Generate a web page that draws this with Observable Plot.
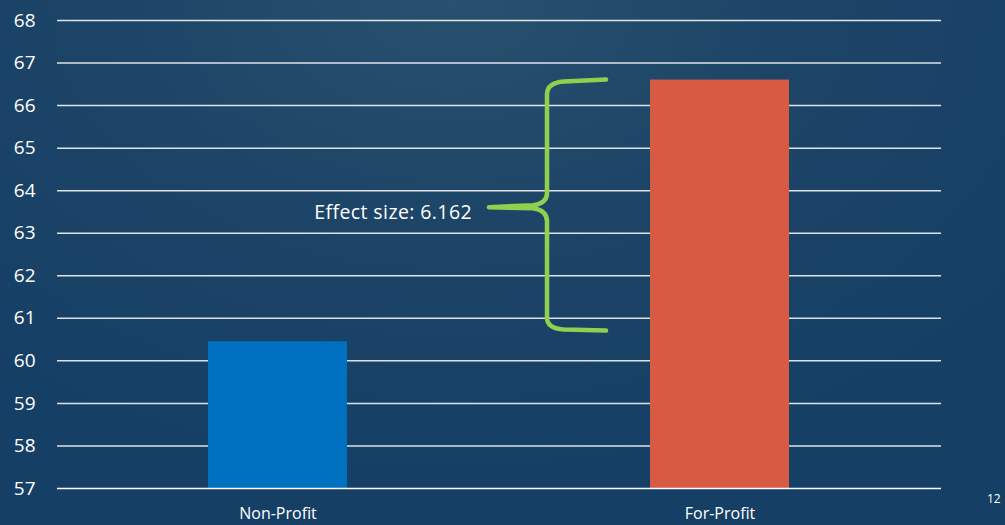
<!DOCTYPE html>
<html>
<head>
<meta charset="utf-8">
<script src="https://cdn.jsdelivr.net/npm/d3@7"></script>
<script src="https://cdn.jsdelivr.net/npm/@observablehq/plot@0.6"></script>
<style>
  html, body { margin: 0; padding: 0; }
  body {
    width: 1005px; height: 525px; overflow: hidden; position: relative;
    background: radial-gradient(ellipse 70% 90% at 45% 0%, #28516f 0%, #1d4567 45%, #163f66 100%);
    font-family: "Open Sans", Lato, sans-serif;
  }
  #chart svg { display: block; background: transparent; }
  #page { position: absolute; left: 987px; top: 490px; color: #fff; font-size: 12px; font-family: "Open Sans", sans-serif; }
</style>
</head>
<body>
<div id="chart"></div>
<div id="page">12</div>
<script>
const categories = ["Non-Profit", "For-Profit"];
const values = [60.45, 66.6];
const barColors = ["#0070C0", "#D65B42"];
const yTicks = [57, 58, 59, 60, 61, 62, 63, 64, 65, 66, 67, 68];
const effectLabel = "Effect size: 6.162";
const braceTop = 66.6;
const braceBottom = 60.7;
const braceTip = 63.6;

const data = categories.map((c, i) => ({category: c, value: values[i], color: barColors[i]}));

function braceMark(index, scales, vals, dims) {
  const x0 = scales.x("For-Profit");
  const yT = scales.y(braceTop), yB = scales.y(braceBottom), yM = scales.y(braceTip);
  const xe = x0 - 44, xv = x0 - 103, xt = x0 - 161;
  const g = d3.create("svg:g");
  const p = [
    `M${xe},${yT} L${xv + 17},${yT + 2} Q${xv},${yT + 3} ${xv},${yT + 15}`,
    `L${xv},${yM - 14} Q${xv},${yM - 4} ${xv - 14},${yM - 2} L${xt},${yM}`,
    `M${xt},${yM} L${xv - 14},${yM + 1} Q${xv},${yM + 3} ${xv},${yM + 14}`,
    `L${xv},${yB - 13} Q${xv},${yB - 2} ${xv + 17},${yB - 1} L${xe},${yB}`
  ].join(" ");
  g.append("path").attr("d", p).attr("fill", "none").attr("stroke", "#8FD14F")
    .attr("stroke-width", 4.5).attr("stroke-linecap", "round").attr("stroke-linejoin", "round");
  g.append("text").attr("x", xt - 17).attr("y", yM + 7).attr("text-anchor", "end")
    .attr("dominant-baseline", "middle").attr("fill", "#fff")
    .attr("font-size", 19.5).attr("letter-spacing", 0.4)
    .attr("font-family", "'Open Sans', sans-serif").text(effectLabel);
  return g.node();
}

const chart = Plot.plot({
  width: 1005,
  height: 525,
  marginLeft: 57,
  marginRight: 64,
  marginTop: 20,
  marginBottom: 37,
  style: {background: "transparent", color: "#fff", fontFamily: "'Open Sans', sans-serif"},
  x: {domain: categories, paddingInner: 0.685, paddingOuter: 0.3425, label: null},
  y: {domain: [57, 68], label: null},
  marks: [
    Plot.ruleY(yTicks.filter(t => t > 57), {stroke: "#fff", strokeOpacity: 0.85, strokeWidth: 1.5}),
    Plot.barY(data, {x: "category", y1: 57, y2: "value", fill: "color"}),
    Plot.ruleY([57], {stroke: "#fff", strokeWidth: 1.5}),
    Plot.axisY({ticks: yTicks, tickSize: 0, tickPadding: 22, fontSize: 19, anchor: "left", textAnchor: "end"}),
    Plot.axisX({tickSize: 0, tickPadding: 19, fontSize: 16}),
    braceMark
  ]
});
document.getElementById("chart").append(chart);
</script>
</body>
</html>
